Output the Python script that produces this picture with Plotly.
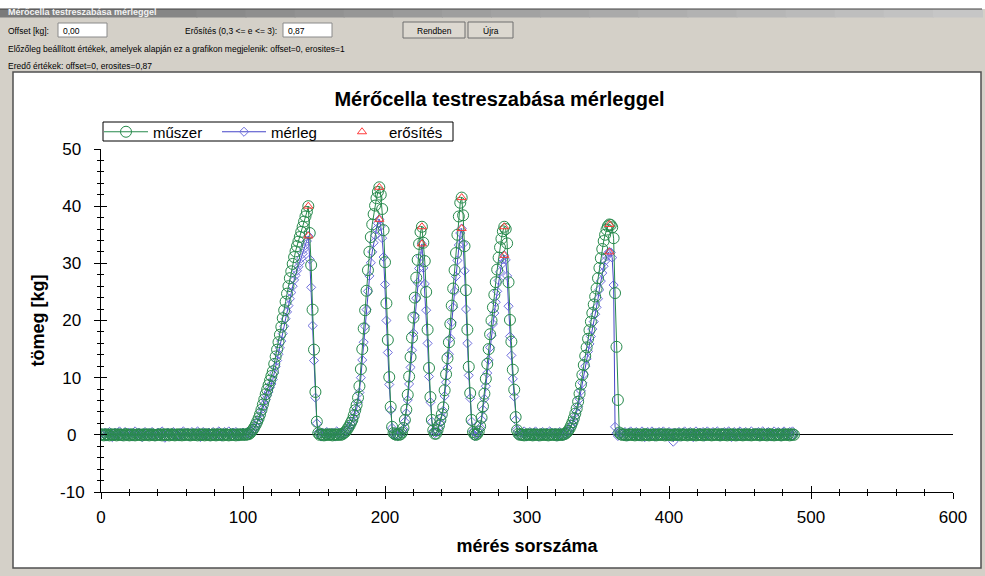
import plotly.graph_objects as go

# ---------------- data ----------------
# műszer (instrument) readings, measurement 0..488
muszer = [
    # 0-103 baseline
    0.0, 0.1, -0.1, 0.0, 0.1, 0.0, -0.1, 0.1, 0.0, 0.0,
    0.1, -0.1, 0.0, 0.1, 0.0, 0.0, -0.1, 0.1, 0.1, 0.0,
    -0.1, 0.0, 0.1, 0.0, -0.1, 0.0, 0.1, 0.0, 0.0, -0.1,
    0.1, 0.0, 0.0, 0.1, -0.1, 0.0, 0.1, 0.0, -0.1, 0.0,
    0.0, 0.1, 0.0, -0.1, 0.1, 0.0, 0.0, 0.1, -0.1, 0.0,
    0.1, 0.0, -0.1, 0.0, 0.1, 0.0, 0.0, -0.1, 0.1, 0.0,
    0.0, 0.1, 0.0, -0.1, 0.0, 0.1, 0.0, 0.0, -0.1, 0.1,
    0.0, 0.0, 0.1, -0.1, 0.0, 0.1, 0.0, -0.1, 0.0, 0.1,
    0.0, -0.1, 0.1, 0.0, 0.0, 0.1, -0.1, 0.0, 0.1, 0.0,
    -0.1, 0.0, 0.1, 0.0, 0.0, -0.1, 0.1, 0.0, 0.0, 0.1,
    0.0, 0.1, 0.0, 0.1,
    # 104-153 peak 1
    0.1, 0.3, 0.6, 0.9, 1.3, 1.8, 2.3, 2.9, 3.6, 4.4,
    5.3, 6.2, 7.1, 7.9, 8.7, 9.5, 10.3, 11.1, 12.4, 13.7,
    14.9, 16.2, 17.5, 18.9, 20.4, 21.8, 23.3, 24.7, 26.0, 27.4,
    28.6, 29.9, 31.1, 32.1, 33.0, 33.8, 34.6, 35.5, 36.4, 37.3,
    38.2, 39.0, 40.0, 35.3, 29.7, 21.9, 14.9, 7.5, 2.3, 0.3,
    # 154-169 baseline
    0.0, 0.1, 0.0, -0.1, 0.0, 0.1, 0.0, 0.0, 0.1, -0.1, 0.0, 0.1, 0.0, 0.0, 0.1, 0.0,
    # 170-207 peak 2
    0.1, 0.3, 0.5, 0.8, 1.2, 1.6, 2.1, 2.6, 3.4, 4.3,
    5.2, 6.5, 8.5, 11.5, 15.0, 18.6, 21.8, 25.2, 28.8, 32.0,
    34.6, 36.8, 38.6, 40.1, 41.4, 42.5, 43.3, 42.0, 39.5, 35.8,
    30.2, 23.0, 16.6, 10.1, 4.9, 1.4, 0.3, 0.1,
    # 208-210 baseline
    0.0, 0.1, 0.0,
    # 211-235 peak 3
    0.1, 0.4, 1.2, 2.6, 4.4, 7.0, 10.2, 13.6, 17.0, 20.5,
    24.0, 27.5, 30.6, 33.4, 35.5, 36.4, 33.6, 30.4, 25.0, 18.4,
    11.7, 6.6, 2.6, 0.8, 0.2,
    # 236-263 peak 4
    0.2, 0.8, 1.6, 2.6, 3.6, 4.8, 7.8, 10.6, 13.4, 16.2,
    19.4, 22.6, 25.6, 28.8, 31.8, 35.0, 38.2, 40.6, 41.5, 38.4,
    33.0, 25.3, 18.4, 11.9, 7.3, 2.6, 0.5, 0.1,
    # 264
    0.0,
    # 265-294 peak 5
    0.2, 0.6, 1.5, 3.0, 5.0, 7.2, 9.8, 12.4, 15.0, 17.6,
    20.0, 22.3, 24.5, 26.7, 28.9, 31.0, 32.8, 34.3, 35.6, 36.4,
    36.0, 33.5, 26.7, 20.1, 16.3, 11.4, 7.9, 3.1, 0.8, 0.2,
    # 295-325 baseline
    0.0, 0.1, 0.0, -0.1, 0.0, 0.1, 0.0, 0.0, 0.1, -0.1,
    0.0, 0.1, 0.0, 0.0, -0.1, 0.1, 0.0, 0.0, 0.1, 0.0,
    -0.1, 0.0, 0.1, 0.0, 0.0, 0.1, -0.1, 0.0, 0.1, 0.0, 0.0,
    # 326-366 peak 6
    0.1, 0.2, 0.4, 0.7, 1.1, 1.6, 2.2, 2.9, 3.7, 4.6,
    5.8, 7.2, 8.8, 10.5, 12.2, 13.8, 15.3, 16.8, 18.3, 19.8,
    21.3, 22.8, 24.2, 25.6, 27.4, 29.2, 30.9, 32.5, 33.9, 35.0,
    35.9, 36.5, 36.8, 36.7, 36.3, 34.4, 24.8, 15.4, 6.1, 0.4,
    0.1,
    # 367-488 baseline
    0.0, 0.1, 0.0, -0.1, 0.0, 0.1, 0.0, 0.0, 0.1, -0.1,
    0.0, 0.1, 0.0, 0.0, -0.1, 0.1, 0.0, 0.1, 0.0, -0.1,
    0.0, 0.0, 0.1, 0.0, -0.1, 0.0, 0.1, 0.0, 0.0, 0.1,
    -0.1, 0.0, 0.1, 0.0, 0.0, -0.1, 0.0, 0.1, 0.0, 0.0,
    0.1, -0.1, 0.0, 0.1, 0.0, 0.0, -0.1, 0.1, 0.0, 0.0,
    0.1, 0.0, -0.1, 0.0, 0.1, 0.0, 0.0, -0.1, 0.1, 0.0,
    0.0, 0.1, 0.0, -0.1, 0.0, 0.1, 0.0, 0.0, 0.1, -0.1,
    0.0, 0.1, 0.0, 0.0, -0.1, 0.1, 0.0, 0.0, 0.1, 0.0,
    -0.1, 0.0, 0.1, 0.0, 0.0, -0.1, 0.1, 0.0, 0.0, 0.1,
    0.0, -0.1, 0.0, 0.1, 0.0, 0.0, 0.1, -0.1, 0.0, 0.1,
    0.0, 0.0, -0.1, 0.1, 0.0, 0.1, 0.0, -0.1, 0.0, 0.0,
    0.1, 0.0, -0.1, 0.0, 0.1, 0.0, 0.0, 0.1, -0.1, 0.0,
    0.1, 0.0,
]

# mérleg (scale) readings, measurement 0..488
merleg = [
    # 0-103 baseline
    0.3, -0.2, 0.1, 0.4, -0.3, 0.2, 0.5, 0.0, -0.4, 0.2,
    0.4, -0.1, 0.3, 0.6, 0.1, -0.3, 0.2, 0.5, -0.2, 0.0,
    0.4, 0.1, -0.3, 0.3, 0.6, 0.2, -0.1, 0.4, 0.0, -0.4,
    0.2, 0.5, 0.1, -0.2, 0.3, 0.0, 0.5, 0.2, -0.3, 0.1,
    0.4, -0.1, 0.2, 0.6, 0.0, -0.5, 0.1, 0.4, 0.2, -0.2,
    0.3, 0.5, -0.1, 0.2, 0.0, -0.3, 0.4, 0.1, 0.6, -0.2,
    0.1, 0.4, -0.3, 0.2, 0.5, 0.0, -0.2, 0.3, 0.6, 0.1,
    -0.4, 0.2, 0.5, -0.1, 0.3, 0.0, 0.4, -0.3, 0.2, 0.5,
    0.1, -0.2, 0.4, 0.6, 0.0, -0.3, 0.2, 0.5, -0.1, 0.3,
    0.6, 0.1, -0.2, 0.4, 0.0, 0.5, 0.2, -0.3, 0.3, 0.1,
    0.4, -0.1, 0.2, 0.5,
    # 104-153 peak 1
    0.3, 0.2, 0.6, 0.7, 1.2, 1.5, 2.1, 2.5, 3.1, 3.9,
    4.6, 5.4, 6.2, 6.9, 7.5, 8.3, 8.9, 9.7, 10.8, 11.9,
    13.0, 14.1, 15.2, 16.4, 17.7, 19.0, 20.3, 21.5, 22.6, 23.8,
    24.9, 26.0, 27.1, 27.9, 28.7, 29.4, 30.1, 30.9, 31.7, 32.5,
    33.2, 33.9, 34.8, 30.7, 25.8, 19.1, 13.0, 6.5, 2.0, 0.4,
    # 154-169 baseline
    0.2, -0.3, 0.4, 0.1, -0.2, 0.5, 0.0, 0.3, -0.1, 0.4, 0.2, -0.3, 0.6, 0.1, 0.3, 0.0,
    # 170-207 peak 2
    0.3, 0.2, 0.6, 0.7, 1.0, 1.4, 1.8, 2.3, 3.0, 3.7,
    4.5, 5.7, 7.4, 10.0, 13.1, 16.2, 19.0, 21.9, 25.1, 27.8,
    30.1, 32.0, 33.6, 34.9, 36.0, 37.0, 37.7, 36.5, 34.4, 31.1,
    26.3, 20.0, 14.4, 8.8, 4.3, 1.2, 0.4, -0.1,
    # 208-210 baseline
    0.3, -0.2, 0.4,
    # 211-235 peak 3
    0.2, 0.5, 1.0, 2.3, 3.8, 6.1, 8.9, 11.8, 14.8, 17.8,
    20.9, 23.9, 26.6, 29.1, 31.2, 33.4, 29.2, 26.4, 21.8, 16.0,
    10.2, 5.7, 2.3, 0.6, 0.3,
    # 236-263 peak 4
    0.4, 0.6, 1.4, 2.2, 3.1, 4.2, 6.8, 9.2, 11.7, 14.1,
    16.9, 19.7, 22.3, 25.1, 27.7, 30.5, 33.2, 35.3, 36.1, 33.4,
    28.7, 22.0, 16.0, 10.4, 6.4, 2.3, 0.6, -0.2,
    # 264
    0.3,
    # 265-294 peak 5
    0.1, 0.7, 1.3, 2.6, 4.4, 6.3, 8.5, 10.8, 13.1, 15.3,
    17.4, 19.4, 21.3, 23.2, 25.1, 27.0, 28.5, 29.8, 30.7, 31.4,
    30.6, 27.8, 22.5, 17.2, 13.9, 9.8, 6.7, 2.6, 0.9, -0.1,
    # 295-325 baseline
    0.4, -0.2, 0.3, 0.6, 0.1, -0.3, 0.2, 0.5, 0.0, -0.2,
    0.4, 0.6, 0.1, -0.3, 0.3, 0.0, 0.5, 0.2, -0.2, 0.4,
    0.1, 0.6, -0.1, 0.3, 0.0, 0.4, -0.3, 0.2, 0.5, 0.1, -0.2,
    # 326-366 peak 6
    0.3, 0.1, 0.5, 0.6, 1.0, 1.4, 1.9, 2.5, 3.2, 4.0,
    5.0, 6.3, 7.7, 9.1, 10.6, 12.0, 13.3, 14.6, 15.9, 17.2,
    18.5, 19.8, 21.1, 22.3, 23.8, 25.4, 26.9, 28.3, 29.5, 30.4,
    31.2, 31.8, 32.0, 31.9, 31.0, 26.2, 1.4, 0.3, -0.2, 0.4,
    0.2,
    # 367-488 baseline
    0.3, -0.2, 0.5, 0.1, -0.3, 0.4, 0.6, 0.0, -0.2, 0.3,
    0.5, 0.1, -0.3, 0.2, 0.6, 0.0, -0.4, 0.3, 0.5, -0.1,
    0.2, 0.6, 0.1, -0.3, 0.4, 0.0, 0.5, -0.2, 0.3, 0.6,
    0.1, -0.3, 0.2, 0.5, -0.1, 0.3, -1.2, 0.4, 0.1, -0.2,
    0.5, 0.0, -0.3, 0.4, 0.6, 0.1, -0.2, 0.3, 0.5, 0.0,
    -0.4, 0.2, 0.6, 0.1, -0.2, 0.4, 0.0, 0.5, -0.3, 0.2,
    0.6, 0.1, -0.1, 0.3, 0.5, -0.2, 0.2, 0.6, 0.0, -0.3,
    0.4, 0.1, 0.5, -0.2, 0.3, 0.6, 0.0, -0.4, 0.2, 0.5,
    0.1, -0.3, 0.4, 0.6, 0.0, -0.2, 0.3, 0.5, 0.1, -0.3,
    0.2, 0.6, 0.0, -0.1, 0.4, 0.1, 0.5, -0.3, 0.2, 0.6,
    0.0, -0.2, 0.4, 0.5, 0.1, -0.3, 0.3, 0.6, 0.0, -0.2,
    0.5, 0.1, -0.3, 0.4, 0.6, 0.0, -0.1, 0.3, 0.5, -0.2,
    0.6, 0.1,
]

meres_sorszam = list(range(len(muszer)))

# erősítés markers (at the peaks)
erosites_x = [146, 146, 196, 196, 226, 226, 254, 254, 284, 284, 358, 358]
erosites_y = [40.0, 34.8, 43.3, 37.7, 36.4, 33.4, 41.5, 36.1, 36.4, 31.4, 36.8, 32.0]

x_tickvals = [0, 100, 200, 300, 400, 500, 600]
y_tickvals = [-10, 0, 10, 20, 30, 40, 50]
y_ticktext = ['-10', '0\u2008\u2009', '10\u2009', '20\u2009', '30\u2009', '40\u2009', '50\u2009']

# ---------------- geometry helpers (pixel -> paper) ----------------
W, H = 985, 576
PL, PR, PT, PB = 101, 953, 149, 492


def px(x):
    return (x - PL) / (PR - PL)


def py(y):
    return (PB - y) / (PB - PT)


GREEN = '#278a4c'
BLUE_M = 'rgb(110,110,220)'
BLUE_L = 'rgb(70,70,200)'
RED = '#ff3b3b'
FORM = '#d4d0c8'
FONT = 'Liberation Sans, Arial, sans-serif'

fig = go.Figure()

fig.add_trace(go.Scatter(
    x=meres_sorszam, y=merleg, mode='lines+markers', name='mérleg', legendrank=2,
    line=dict(color=BLUE_L, width=1),
    marker=dict(symbol='diamond-open', size=7, color=BLUE_M, line=dict(width=1)),
))
fig.add_trace(go.Scatter(
    x=meres_sorszam, y=muszer, mode='lines+markers', name='műszer', legendrank=1,
    line=dict(color=GREEN, width=1),
    marker=dict(symbol='circle-open', size=11, color=GREEN, line=dict(width=1)),
))
fig.add_trace(go.Scatter(
    x=erosites_x, y=erosites_y, mode='markers', name='erősítés', legendrank=3,
    marker=dict(symbol='triangle-up-open', size=8, color=RED, line=dict(width=1)),
))
# helper trace so the overlay axes (inner half of the crossing ticks) exist
fig.add_trace(go.Scatter(x=[None], y=[None], xaxis='x2', yaxis='y2',
                         showlegend=False, hoverinfo='skip'))

shapes = []
annotations = []


def rect(x0, y0, x1, y1, fill, line=None, lw=0):
    shapes.append(dict(type='rect', xref='paper', yref='paper', layer='below',
                       x0=px(x0), x1=px(x1), y0=py(y0), y1=py(y1),
                       fillcolor=fill, line=dict(color=line or fill, width=lw)))


def text(x, y, s, size=8.5, anchor='left', color='black', bold=False):
    annotations.append(dict(xref='paper', yref='paper', x=px(x), y=py(y), text=('<b>%s</b>' % s) if bold else s,
                            showarrow=False, xanchor=anchor, yanchor='middle',
                            font=dict(size=size, color=color, family=FONT)))


# top white strip + title bar gradient
rect(0, 0, W, 9, 'white')
steps = 20
for i in range(steps):
    c = int(122 + (198 - 122) * i / (steps - 1))
    rect(i * 982 / steps, 9, (i + 1) * 982 / steps + 1, 17.5, 'rgb(%d,%d,%d)' % (c, c, c))
rect(0, 8.5, 982, 9.5, '#404040')
text(6, 11.5, 'Mérőcella testreszabása mérleggel', size=9, color='#f2f2f2', bold=True)

# white chart panel
rect(13, 72, 981, 568, 'white', '#505050', 1.5)

# legend frame
rect(103, 122, 453, 141, 'white', 'black', 1)

# form controls
text(6, 31, 'Offset [kg]:')
rect(58, 23, 107, 37, 'white', '#8a8a8a', 1)
text(61, 30.5, '0,00')
text(183, 31, 'Erősítés (0,3 <= e <= 3):')
rect(283, 23, 332, 37, 'white', '#8a8a8a', 1)
text(286, 30.5, '0,87')
rect(403, 22, 465, 38, '#dcd8d0', '#6f6f6f', 1)
text(434, 30.5, 'Rendben', anchor='center')
rect(468, 22, 513, 38, '#dcd8d0', '#6f6f6f', 1)
text(490.5, 30.5, 'Újra', anchor='center')
text(6, 49, 'Előzőleg beállított értékek, amelyek alapján ez a grafikon megjelenik: offset=0, erosites=1')
text(6, 66, 'Eredő értékek: offset=0, erosites=0,87')

fig.update_layout(
    template='none',
    width=W, height=H, autosize=False,
    margin=dict(l=PL, r=W - PR, t=PT, b=H - PB, pad=0),
    paper_bgcolor=FORM, plot_bgcolor='white',
    font=dict(family=FONT, color='black'),
    hovermode=False,
    title=dict(text='<b>Mérőcella testreszabása mérleggel</b>', xref='container', yref='container',
               x=499.5 / W, xanchor='center', y=1 - 99 / H, yanchor='middle',
               font=dict(size=20, family=FONT, color='black')),
    showlegend=True,
    legend=dict(orientation='h', x=px(99), y=py(115.5), xanchor='left', yanchor='top',
                borderwidth=0, bgcolor='rgba(0,0,0,0)',
                font=dict(size=15, family=FONT, color='black'),
                entrywidth=59, entrywidthmode='pixels', itemwidth=44),
    xaxis=dict(range=[0, 600], tickvals=x_tickvals, showgrid=False, zeroline=False,
               showline=True, linecolor='black', linewidth=1,
               ticks='outside', ticklen=6, tickwidth=1, tickcolor='black',
               tickfont=dict(size=17, family=FONT), ticklabelstandoff=4,
               minor=dict(dtick=20, tick0=0, ticks='outside', ticklen=3, tickwidth=1,
                          tickcolor='black', showgrid=False),
               title=dict(text='<b>mérés sorszáma</b>', font=dict(size=18, family=FONT), standoff=12),
               automargin=False),
    yaxis=dict(range=[-10, 50], tickvals=y_tickvals, ticktext=y_ticktext, showgrid=False,
               zeroline=True, zerolinecolor='black', zerolinewidth=1,
               showline=True, linecolor='black', linewidth=1,
               ticks='outside', ticklen=6, tickwidth=1, tickcolor='black',
               tickfont=dict(size=17, family=FONT), ticklabelstandoff=6,
               minor=dict(dtick=2, tick0=0, ticks='outside', ticklen=3, tickwidth=1,
                          tickcolor='black', showgrid=False),
               title=dict(text='<b>tömeg [kg]</b>', font=dict(size=18, family=FONT), standoff=10),
               automargin=False),
    xaxis2=dict(overlaying='x', anchor='y', side='bottom', range=[0, 600], tickvals=x_tickvals,
                showticklabels=False, showgrid=False, zeroline=False, showline=False,
                ticks='inside', ticklen=6, tickwidth=1, tickcolor='black',
                minor=dict(dtick=20, tick0=0, ticks='inside', ticklen=3, tickwidth=1,
                           tickcolor='black', showgrid=False)),
    yaxis2=dict(overlaying='y', anchor='x', side='left', range=[-10, 50], tickvals=y_tickvals,
                showticklabels=False, showgrid=False, zeroline=False, showline=False,
                ticks='inside', ticklen=6, tickwidth=1, tickcolor='black',
                minor=dict(dtick=2, tick0=0, ticks='inside', ticklen=3, tickwidth=1,
                           tickcolor='black', showgrid=False)),
    shapes=shapes,
    annotations=annotations,
)

fig.write_html('out.html', config={'displayModeBar': False},
               post_script="document.body.style.margin='0px';")
